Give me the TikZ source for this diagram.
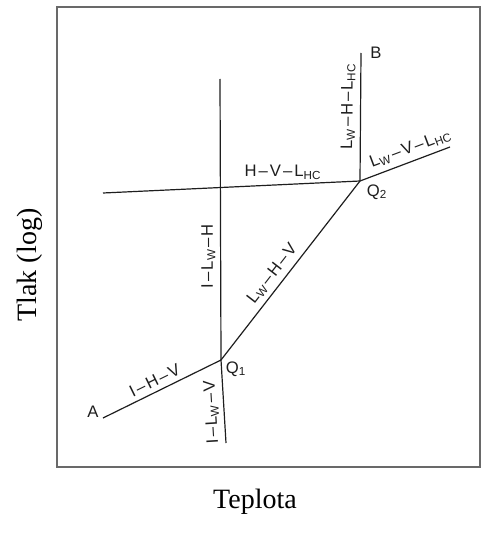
\documentclass[tikz,border=0pt]{standalone}
\usepackage{fontspec}
\setmainfont{Liberation Serif}
\newfontfamily\labelfont[Ligatures=TeX]{Liberation Sans}
\usetikzlibrary{
  positioning,
  calc
}
\definecolor{framegray}{RGB}{105,105,105}
\definecolor{phaseline}{RGB}{30,30,30}
\newcommand{\Lw}{L\textsubscript{W}}
\newcommand{\Lhc}{L\textsubscript{HC}}
\newcommand{\phdash}{\kern1.5pt--\kern1.5pt}
\tikzset{
  phasecurve/.style={
    draw=phaseline, line width=0.9pt
  },
  phaselabel/.style={
    font=\labelfont\fontsize{12.5}{14}\selectfont,
    inner sep=3.5pt, text=phaseline
  },
  pointlabel/.style={
    font=\labelfont\fontsize{12.5}{14}\selectfont,
    inner sep=0pt, text=phaseline
  },
  axislabel/.style={
    font=\fontsize{21}{24}\selectfont
  },
  plotframe/.style={
    draw=framegray, line width=1.4pt
  },
}

\begin{document}
\begin{tikzpicture}[x=0.75pt, y=0.75pt]

  \useasboundingbox (0,0) rectangle (481,-535);

  %% Frame
  \draw[plotframe] (57,-7) rectangle (480,-467);

  %% Quadruple points and line ends
  \coordinate (Q1) at (221,-360);
  \coordinate (Q2) at (360,-181);
  \coordinate (A) at (103,-418);
  \coordinate (B) at (361,-53);
  \coordinate (iceTop) at (220,-79);
  \coordinate (iceBot) at (226,-443);
  \coordinate (hvlLeft) at (103,-193);
  \coordinate (lvlEnd) at (450,-147);

  %% Three-phase lines
  \draw[phasecurve] (A) --
    node[phaselabel, sloped, above, pos=0.48] {I\phdash H\phdash V} (Q1);
  \draw[phasecurve] (iceBot) --
    node[phaselabel, sloped, allow upside down, above, pos=0.38] {I\phdash\Lw\phdash V} (Q1);
  \draw[phasecurve] (Q1) --
    node[phaselabel, sloped, allow upside down, above, pos=0.37] {I\phdash\Lw\phdash H} (iceTop);
  \draw[phasecurve] (Q1) --
    node[phaselabel, sloped, above, pos=0.44] {\Lw\phdash H\phdash V} (Q2);
  \draw[phasecurve] (hvlLeft) --
    node[phaselabel, above, pos=0.70] {H\phdash V\phdash\Lhc} (Q2);
  \draw[phasecurve] (Q2) --
    node[phaselabel, sloped, above, pos=0.58] {\Lw\phdash H\phdash\Lhc} (B);
  \draw[phasecurve] (Q2) --
    node[phaselabel, sloped, above, pos=0.61] {\Lw\phdash V\phdash\Lhc} (lvlEnd);

  %% Point labels
  \node[pointlabel] (labA) at (93,-412) {A};
  \node[pointlabel] (labB) at (376,-53) {B};
  \node[pointlabel] (labQ1) at (236,-369) {Q\textsubscript{1}};
  \node[pointlabel] (labQ2) at (377,-192) {Q\textsubscript{2}};

  %% Axes
  \node[axislabel, rotate=90] (ylab) at (30,-265) {Tlak (log)};
  \node[axislabel] (xlab) at (255,-502) {Teplota};

\end{tikzpicture}
\end{document}
